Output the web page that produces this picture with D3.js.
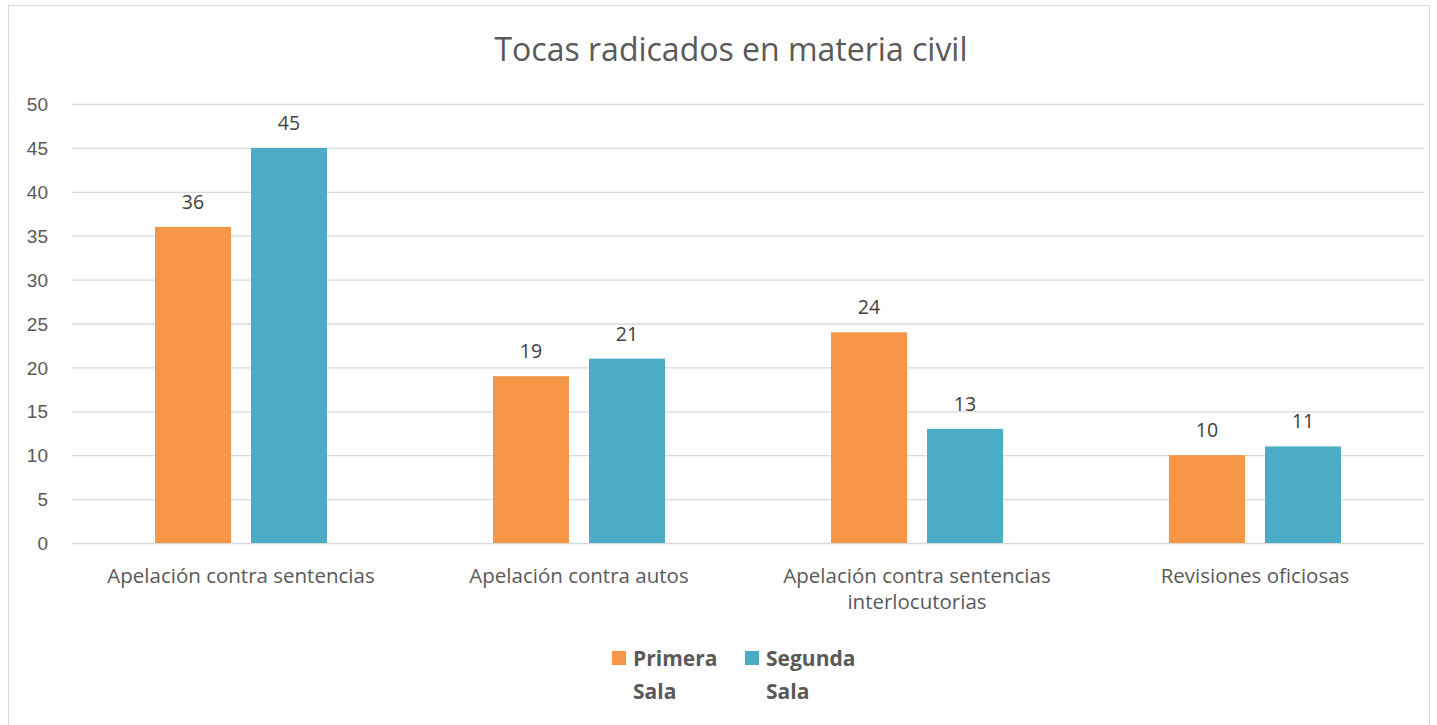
<!DOCTYPE html>
<html>
<head>
<meta charset="utf-8">
<title>Tocas radicados en materia civil</title>
<script src="https://cdnjs.cloudflare.com/ajax/libs/d3/7.8.5/d3.min.js"></script>
<style>
	body { margin: 0; background: #fff; }
	svg { font-family: "Open Sans", "Noto Sans", sans-serif; }
	.grid line { stroke: #d9d9d9; stroke-width: 1.3px; }
	.grid .domain { display: none; }
	.y.axis text { fill: #595959; font-size: 19px; }
	.y.axis .domain, .y.axis line { display: none; }
	.cat { fill: #595959; font-size: 20.5px; }
	.val { fill: #404040; font-size: 19.5px; }
	.legend text { fill: #595959; font-size: 21px; font-weight: bold; }
</style>
</head>
<body>
<script>
var categories = [
	["Apelación contra sentencias"],
	["Apelación contra autos"],
	["Apelación contra sentencias", "interlocutorias"],
	["Revisiones oficiosas"]
];
var seriesNames = [["Primera", "Sala"], ["Segunda", "Sala"]];
var primera = [36, 19, 24, 10];
var segunda = [45, 21, 13, 11];
var yTicks = [0, 5, 10, 15, 20, 25, 30, 35, 40, 45, 50];
var colors = ["#F79646", "#4BACC6"];

var W = 1437, H = 725;
var plotLeft = 72, plotRight = 1424, plotTop = 104, plotBottom = 543;

var svg = d3.select("body").append("svg")
	.attr("width", W)
	.attr("height", H);

svg.append("rect")
	.attr("x", 8.5).attr("y", 5.5)
	.attr("width", 1421).attr("height", 740)
	.attr("fill", "#fff")
	.attr("stroke", "#d9d9d9");

svg.append("text")
	.attr("x", 731).attr("y", 61)
	.attr("text-anchor", "middle")
	.attr("fill", "#595959")
	.style("font-size", "32px")
	.text("Tocas radicados en materia civil");

var x0 = d3.scaleBand()
	.domain(d3.range(categories.length))
	.range([plotLeft, plotRight]);

// pair of bars, 76px each with a 20px gap, centred in each category
var x1 = d3.scaleBand()
	.domain([0, 1])
	.range([x0.bandwidth() / 2 - 86, x0.bandwidth() / 2 + 86])
	.paddingInner(20 / 96);

var y = d3.scaleLinear()
	.domain([0, 50])
	.range([plotBottom, plotTop]);

svg.append("g")
	.attr("class", "grid")
	.attr("transform", "translate(" + plotLeft + ",0)")
	.call(d3.axisLeft(y).tickValues(yTicks).tickSize(-(plotRight - plotLeft)).tickFormat(""));

svg.append("g")
	.attr("class", "y axis")
	.attr("transform", "translate(" + (plotLeft - 10) + ",0)")
	.call(d3.axisLeft(y).tickValues(yTicks).tickSize(0).tickPadding(14));

svg.selectAll(".y.axis text").attr("dy", "0.35em");

var rows = primera.map(function(d, i) {
	return [d, segunda[i]];
});

var groups = svg.selectAll("g.cat-group")
	.data(rows)
	.enter()
	.append("g")
		.attr("class", "cat-group")
		.attr("transform", function(d, i) { return "translate(" + x0(i) + ",0)"; });

groups.selectAll("rect")
	.data(function(d) { return d; })
	.enter()
	.append("rect")
		.attr("x", function(d, j) { return x1(j); })
		.attr("y", function(d) { return y(d); })
		.attr("width", x1.bandwidth())
		.attr("height", function(d) { return plotBottom - y(d); })
		.attr("fill", function(d, j) { return colors[j]; });

groups.selectAll("text.val")
	.data(function(d) { return d; })
	.enter()
	.append("text")
		.attr("class", "val")
		.attr("x", function(d, j) { return x1(j) + x1.bandwidth() / 2; })
		.attr("y", function(d) { return y(d) - 18; })
		.attr("text-anchor", "middle")
		.text(function(d) { return d; });

var catText = svg.selectAll("text.cat")
	.data(categories)
	.enter()
	.append("text")
		.attr("class", "cat")
		.attr("text-anchor", "middle")
		.attr("x", function(d, i) { return x0(i) + x0.bandwidth() / 2; })
		.attr("y", 583);

catText.selectAll("tspan")
	.data(function(d) { return d; })
	.enter()
	.append("tspan")
		.attr("x", function() { return d3.select(this.parentNode).attr("x"); })
		.attr("dy", function(d, k) { return k === 0 ? 0 : 26; })
		.text(function(d) { return d; });

var legendX = [612, 745];
var legend = svg.selectAll("g.legend")
	.data(seriesNames)
	.enter()
	.append("g")
		.attr("class", "legend")
		.attr("transform", function(d, i) { return "translate(" + legendX[i] + ",651)"; });

legend.append("rect")
	.attr("width", 14).attr("height", 14)
	.attr("fill", function(d, i) { return colors[i]; });

legend.append("text")
	.selectAll("tspan")
	.data(function(d) { return d; })
	.enter()
	.append("tspan")
		.attr("x", 21)
		.attr("y", function(d, k) { return 15 + k * 33; })
		.text(function(d) { return d; });
</script>
</body>
</html>
